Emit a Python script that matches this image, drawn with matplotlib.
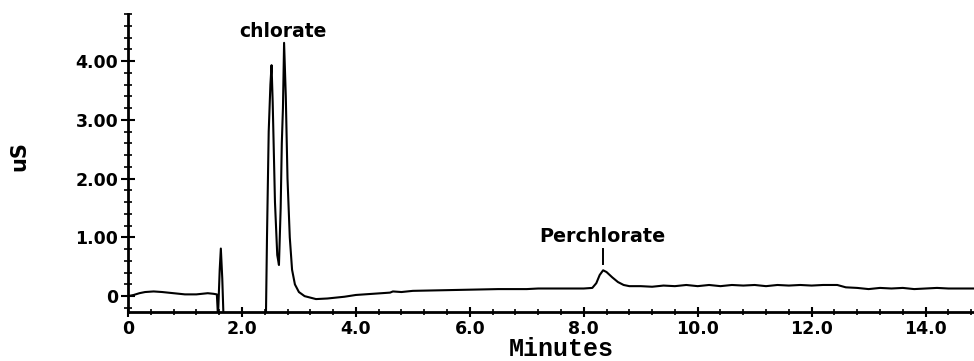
import numpy as np
from matplotlib import pyplot as plt
from matplotlib.ticker import MultipleLocator, FixedLocator

# Chromatogram trace (minutes, uS)
minutes = [0.0, 0.1, 0.2, 0.3, 0.45, 0.6, 0.8, 1.0, 1.2, 1.4, 1.5, 1.56,
           1.58, 1.61, 1.63, 1.655, 1.68, 2.42, 2.44, 2.47, 2.50, 2.52, 2.54,
           2.58, 2.62, 2.65, 2.68, 2.70, 2.72, 2.74, 2.77, 2.80, 2.84, 2.88,
           2.93, 3.00, 3.10, 3.30, 3.50, 3.80, 4.00, 4.30, 4.60, 4.65, 4.80,
           5.00, 5.50, 6.00, 6.50, 7.00, 7.20, 7.50, 8.00, 8.15, 8.22, 8.28,
           8.34, 8.40, 8.50, 8.60, 8.70, 8.80, 9.00, 9.20, 9.40, 9.60, 9.80,
           10.0, 10.2, 10.4, 10.6, 10.8, 11.0, 11.2, 11.4, 11.6, 11.8, 12.0,
           12.2, 12.45, 12.6, 12.8, 13.0, 13.2, 13.4, 13.6, 13.8, 14.0, 14.2,
           14.4, 14.6, 14.85]
signal = [0.00, 0.02, 0.05, 0.07, 0.08, 0.07, 0.05, 0.03, 0.03, 0.05, 0.04, 0.03,
          -0.35, 0.45, 0.81, 0.30, -0.45, -0.45, 1.00, 2.80, 3.60, 3.93, 3.30,
          1.60, 0.70, 0.53, 1.50, 2.60, 3.20, 4.31, 3.40, 2.00, 1.00, 0.45,
          0.20, 0.07, 0.00, -0.05, -0.04, -0.01, 0.02, 0.04, 0.06, 0.08, 0.07,
          0.09, 0.10, 0.11, 0.12, 0.12, 0.13, 0.13, 0.13, 0.14, 0.22, 0.36,
          0.44, 0.41, 0.32, 0.24, 0.19, 0.17, 0.17, 0.16, 0.18, 0.17, 0.19,
          0.17, 0.19, 0.17, 0.19, 0.18, 0.19, 0.17, 0.19, 0.18, 0.19, 0.18,
          0.19, 0.19, 0.15, 0.14, 0.12, 0.14, 0.13, 0.14, 0.12, 0.13, 0.14,
          0.13, 0.13, 0.13]

x_ticks = [0, 2, 4, 6, 8, 10, 12, 14]
x_labels = ['0', '2.0', '4.0', '6.0', '8.0', '10.0', '12.0', '14.0']
y_ticks = [0, 1, 2, 3, 4]
y_labels = ['0', '1.00', '2.00', '3.00', '4.00']

fig = plt.figure(figsize=(9.74, 3.61), dpi=100)
ax = fig.add_axes([0.1314, 0.1357, 0.8686, 0.8254])
ax.plot(minutes, signal, color='black', lw=1.5)

ax.set_xlim(0, 14.85)
ax.set_ylim(-0.27, 4.80)
for side in ['top', 'right']:
    ax.spines[side].set_visible(False)
for side in ['left', 'bottom']:
    ax.spines[side].set_linewidth(2)

ax.xaxis.set_major_locator(FixedLocator(x_ticks))
ax.xaxis.set_minor_locator(MultipleLocator(0.4))
ax.set_xticklabels(x_labels)
ax.yaxis.set_major_locator(FixedLocator(y_ticks))
ax.yaxis.set_minor_locator(MultipleLocator(0.2))
ax.set_yticklabels(y_labels)

ax.tick_params(axis='x', which='major', direction='inout', length=7, width=1.5,
               labelsize=12.5, pad=2)
ax.tick_params(axis='x', which='minor', direction='inout', length=4, width=1.2)
ax.tick_params(axis='y', which='major', direction='inout', length=10, width=1.5,
               labelsize=12.5, pad=2)
ax.tick_params(axis='y', which='minor', direction='inout', length=6, width=1.2)
for lab in ax.get_xticklabels() + ax.get_yticklabels():
    lab.set_fontweight('bold')
    lab.set_family('DejaVu Sans')

ax.set_xlabel('Minutes', family='Liberation Mono', fontweight='bold',
              fontsize=18)
ax.xaxis.set_label_coords(0.512, -0.085)
fig.text(0.02, 0.568, 'uS', rotation=90, ha='center', va='center',
         family='DejaVu Sans', fontweight='bold', fontsize=15)

ax.text(2.72, 4.5, 'chlorate', ha='center', va='center',
        family='DejaVu Sans', fontweight='bold', fontsize=13.5)
ax.text(8.33, 1.02, 'Perchlorate', ha='center', va='center',
        family='DejaVu Sans', fontweight='bold', fontsize=13.8)
ax.plot([8.33, 8.33], [0.55, 0.80], color='black', lw=1.4)

fig.savefig('out.png', dpi=100)
